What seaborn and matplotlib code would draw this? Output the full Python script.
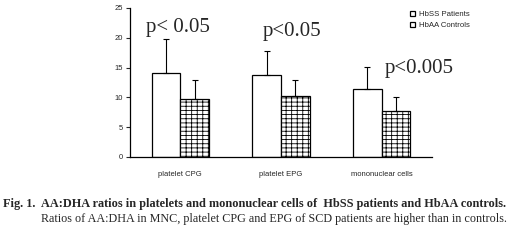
import numpy as np
import matplotlib
matplotlib.use("Agg")
import matplotlib.pyplot as plt
import seaborn as sns
import pandas as pd

# values
cells = ["platelet CPG", "platelet EPG", "mononuclear cells"]
groups = ["HbSS Patients", "HbAA Controls"]
patients = [14.1, 13.8, 11.4]
patients_sd = [5.7, 4.0, 3.7]
controls = [9.7, 10.3, 7.7]
controls_sd = [3.2, 2.6, 2.4]
pvals = ["p< 0.05", "p<0.05", "p<0.005"]

df = pd.DataFrame({
  "cell": cells * 2,
  "group": [groups[0]] * 3 + [groups[1]] * 3,
  "ratio": patients + controls,
  "sd": patients_sd + controls_sd,
})

sns.set_style("white")
plt.rcParams['font.family'] = ['Liberation Sans', 'DejaVu Sans']
plt.rcParams['hatch.color'] = '#a5a5a5'
plt.rcParams['hatch.linewidth'] = 0.6

fig = plt.figure(figsize=(5.2, 2.41), dpi=100)
ax = fig.add_axes([0.25, 0.349, 0.581, 0.618])

sns.barplot(data=df, x="cell", y="ratio", hue="group", order=cells, hue_order=groups,
            palette=["white", "white"], edgecolor="black", linewidth=0.9,
            width=0.57, gap=0, errorbar=None, ax=ax)

# brick-like hatch for controls, one-sided error bars
n = len(cells)
for i, bar in enumerate(ax.patches[:2 * n]):
  if i >= n:
    bar.set_hatch("----|||")
  row = df.iloc[i]
  xc = bar.get_x() + bar.get_width() / 2
  ax.errorbar(xc, row.ratio, yerr=[[0], [row.sd]], fmt="none", ecolor="black",
              elinewidth=0.8, capsize=2, capthick=0.8)

for i, t in enumerate(pvals):
  pos = [(-0.02, 21.8), (1.11, 21.1), (2.37, 14.9)][i]
  ax.text(pos[0], pos[1], t, ha="center", va="center", fontsize=15,
          family="Liberation Serif")

ax.set_xlim(-0.5, 2.5)
ax.set_ylim(0, 25)
ax.set_yticks(np.arange(0, 26, 5))
ax.set_xlabel("")
ax.set_ylabel("")
ax.set_xticks(range(n))
ax.set_xticklabels(cells, fontsize=5.5)
ax.tick_params(axis="x", length=0, pad=10)
ax.set_xticks([-0.5, 0.5, 1.5, 2.5], minor=True)
ax.tick_params(axis="x", which="minor", length=4, direction="inout", width=0.8)
ax.tick_params(axis="y", labelsize=5.5, length=3, width=0.8, left=True, pad=2)
sns.despine(ax=ax)
for s in ["left", "bottom"]:
  ax.spines[s].set_linewidth(0.9)
  ax.spines[s].set_color("black")

handles, labels = ax.get_legend_handles_labels()
for hd in handles:
  hd.set_hatch("")
ax.legend(handles, labels, loc="upper left", bbox_to_anchor=(0.775, 0.985),
          bbox_transform=fig.transFigure, frameon=False, fontsize=5.6,
          handlelength=0.7, handleheight=0.7, handletextpad=0.4, labelspacing=0.5)

fig.text(0.006, 0.155, "Fig. 1.  AA:DHA ratios in platelets and mononuclear cells of  HbSS patients and HbAA controls.",
         fontsize=8.85, fontweight="bold", family="Liberation Serif", va="center")
fig.text(0.079, 0.09, "Ratios of AA:DHA in MNC, platelet CPG and EPG of SCD patients are higher than in controls.",
         fontsize=8.72, family="Liberation Serif", va="center")

fig.savefig("out.png", dpi=100)
